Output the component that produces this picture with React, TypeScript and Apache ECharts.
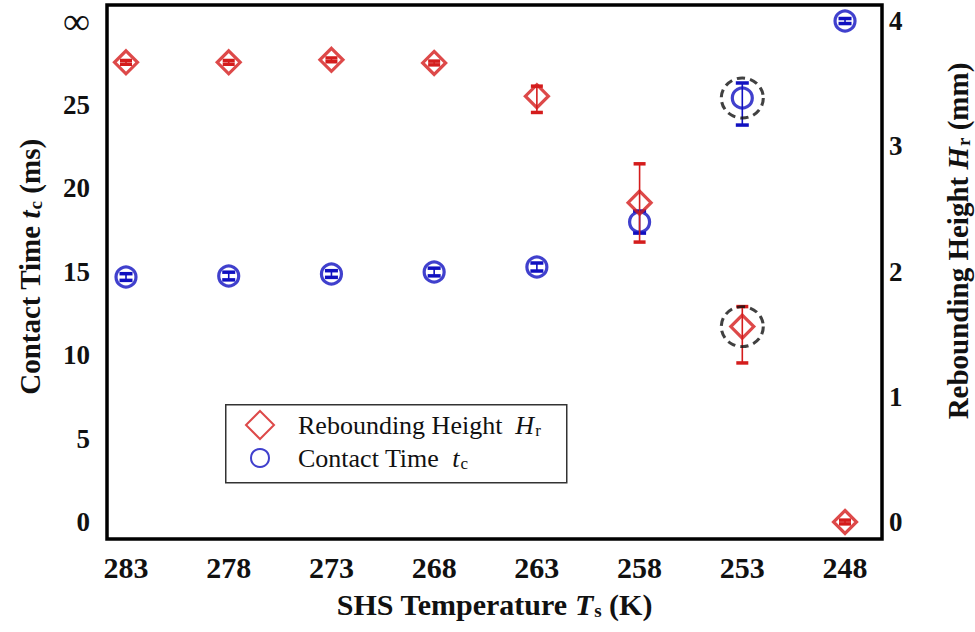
import React, { useEffect, useRef } from "react";
import * as echarts from "echarts";

// SHS temperature categories (K)
const categories = ["283", "278", "273", "268", "263", "258", "253", "248"];
const categoryIndex = [0, 1, 2, 3, 4, 5, 6, 7];

// Rebounding height H_r (mm), right axis
const reboundHeight = [3.67, 3.67, 3.69, 3.665, 3.4, 2.55, 1.56, 0];
const reboundLow = [3.655, 3.655, 3.675, 3.65, 3.27, 2.235, 1.27, -0.015];
const reboundHigh = [3.685, 3.685, 3.705, 3.68, 3.48, 2.86, 1.72, 0.015];

// Contact time t_c (ms), left axis; 30 stands for "∞"
const contactTime = [14.67, 14.73, 14.85, 14.97, 15.27, 17.96, 25.39, 30];
const contactLow = [14.47, 14.5, 14.65, 14.74, 15.03, 17.3, 23.77, 29.85];
const contactHigh = [14.87, 14.96, 15.05, 15.2, 15.51, 18.62, 26.29, 30.15];

// Highlighted (dashed circle) category indices
const highlighted = [6];

// Axis tick values
const leftTicks = [0, 5, 10, 15, 20, 25, 30];
const rightTicks = [0, 1, 2, 3, 4];
const INFINITY_VALUE = 30;

const FONT = '"Liberation Serif", "Times New Roman", serif';
const RED = "#d41c1c";
const BLUE = "#1010c0";

function errorBarSeries(name: string, yAxisIndex: number, low: number[], high: number[], color: string, capW: number) {
  return {
    type: "custom",
    name,
    xAxisIndex: 0,
    yAxisIndex,
    silent: true,
    z: yAxisIndex === 1 ? 6 : 4,
    encode: { x: 0, y: [1, 2] },
    data: categoryIndex.map((i) => [i, low[i], high[i]]),
    renderItem: (_params: any, api: any) => {
      const x = api.value(0);
      const pHi = api.coord([x, api.value(2)]);
      const pLo = api.coord([x, api.value(1)]);
      const ct = 3.5;
      return {
        type: "group",
        children: [
          { type: "line", shape: { x1: pHi[0], y1: pHi[1], x2: pLo[0], y2: pLo[1] }, style: { stroke: color, lineWidth: 1.6 } },
          { type: "rect", shape: { x: pHi[0] - capW / 2, y: pHi[1] - ct / 2, width: capW, height: ct }, style: { fill: color } },
          { type: "rect", shape: { x: pLo[0] - capW / 2, y: pLo[1] - ct / 2, width: capW, height: ct }, style: { fill: color } },
        ],
      };
    },
  };
}

export default function App() {
  const ref = useRef<HTMLDivElement>(null);
  useEffect(() => {
    if (!ref.current) return;
    const chart = echarts.init(ref.current, null, { renderer: "svg" });
    const subRich = (size: number, pad: number, bold: boolean) => ({
      fontSize: size,
      fontFamily: FONT,
      fontWeight: bold ? "bold" : "normal",
      padding: [pad, 0, 0, 1],
    });
    const option: any = {
      animation: false,
      backgroundColor: "#fff",
      grid: {
        left: 107,
        right: 93,
        top: 5,
        bottom: 93,
        show: true,
        borderColor: "#000",
        borderWidth: 3.5,
        backgroundColor: "transparent",
        containLabel: false,
        outerBoundsMode: "none",
      },
      xAxis: {
        type: "value",
        min: -0.185,
        max: 7.36,
        axisLine: { show: false },
        axisTick: { show: false },
        splitLine: { show: false },
        axisLabel: {
          customValues: categoryIndex,
          formatter: (v: number) => categories[Math.round(v)] ?? "",
          fontFamily: FONT,
          fontWeight: "bold",
          fontSize: 30,
          color: "#111",
          margin: 13,
        },
        name: "{b|SHS Temperature }{t|T}{s|s}{b| (K)}",
        nameLocation: "middle",
        nameGap: 50,
        nameTextStyle: {
          fontFamily: FONT,
          fontWeight: "bold",
          fontSize: 30,
          color: "#111",
          rich: {
            b: { fontFamily: FONT, fontWeight: "bold", fontSize: 30, color: "#111" },
            t: { fontFamily: FONT, fontWeight: "bold", fontStyle: "italic", fontSize: 30, color: "#111" },
            s: { ...subRich(19, 12, true), color: "#111" },
          },
        },
      },
      yAxis: [
        {
          type: "value",
          position: "left",
          min: -1.018,
          max: 30.96,
          axisLine: { show: false },
          axisTick: { show: false },
          splitLine: { show: false },
          axisLabel: {
            customValues: leftTicks,
            formatter: (v: number) => (v === INFINITY_VALUE ? "{inf|∞}" : String(v)),
            fontFamily: FONT,
            fontWeight: "bold",
            fontSize: 27,
            color: "#111",
            margin: 17,
            rich: { inf: { fontFamily: FONT, fontSize: 38, lineHeight: 34, fontWeight: "normal", color: "#111" } },
          },
          name: "{b|Contact Time }{t|t}{s|c}{b| (ms)}",
          nameLocation: "middle",
          nameRotate: 90,
          nameGap: 62,
          nameTextStyle: {
            fontFamily: FONT,
            fontWeight: "bold",
            fontSize: 29,
            color: "#111",
            padding: [0, 0, 0, 10],
            rich: {
              b: { fontFamily: FONT, fontWeight: "bold", fontSize: 29, color: "#111" },
              t: { fontFamily: FONT, fontWeight: "bold", fontStyle: "italic", fontSize: 29, color: "#111" },
              s: { ...subRich(19, 12, true), color: "#111" },
            },
          },
        },
        {
          type: "value",
          position: "right",
          min: -0.1357,
          max: 4.128,
          axisLine: { show: false },
          axisTick: { show: false },
          splitLine: { show: false },
          axisLabel: {
            customValues: rightTicks,
            fontFamily: FONT,
            fontWeight: "bold",
            fontSize: 27,
            color: "#111",
            margin: 7,
          },
          name: "{b|Rebounding Height }{t|H}{s|r}{b| (mm)}",
          nameLocation: "middle",
          nameRotate: 90,
          nameGap: 60,
          nameTextStyle: {
            fontFamily: FONT,
            fontWeight: "bold",
            fontSize: 29,
            color: "#111",
            padding: [0, 0, 0, 62],
            rich: {
              b: { fontFamily: FONT, fontWeight: "bold", fontSize: 29, color: "#111" },
              t: { fontFamily: FONT, fontWeight: "bold", fontStyle: "italic", fontSize: 29, color: "#111" },
              s: { ...subRich(19, 12, true), color: "#111" },
            },
          },
        },
      ],
      legend: [
        {
          data: ["Rebounding Height"],
          left: 245,
          top: 410,
          padding: 0,
          itemWidth: 28,
          itemHeight: 28,
          selectedMode: false,
          formatter: () => "{a|Rebounding Height  }{i|H}{s|r}",
          textStyle: {
            fontFamily: FONT,
            fontSize: 26,
            color: "#111",
            padding: [0, 0, 0, 19],
            rich: {
              a: { fontFamily: FONT, fontSize: 26, color: "#111" },
              i: { fontFamily: FONT, fontSize: 26, fontStyle: "italic", color: "#111" },
              s: { ...subRich(17, 11, false), color: "#111" },
            },
          },
        },
        {
          data: ["Contact Time"],
          left: 250,
          top: 445,
          padding: 0,
          itemWidth: 18,
          itemHeight: 18,
          selectedMode: false,
          formatter: () => "{a|Contact Time  }{i|t}{s|c}",
          textStyle: {
            fontFamily: FONT,
            fontSize: 26,
            color: "#111",
            padding: [0, 0, 0, 24],
            rich: {
              a: { fontFamily: FONT, fontSize: 26, color: "#111" },
              i: { fontFamily: FONT, fontSize: 26, fontStyle: "italic", color: "#111" },
              s: { ...subRich(17, 11, false), color: "#111" },
            },
          },
        },
      ],
      graphic: [
        {
          type: "rect",
          left: 225,
          top: 404,
          shape: { width: 341, height: 78 },
          style: { fill: "transparent", stroke: "#333", lineWidth: 1.5 },
          z: 10,
        },
      ],
      series: [
        {
          type: "scatter",
          name: "Contact Time",
          yAxisIndex: 0,
          symbol: "circle",
          symbolSize: 20,
          z: 3,
          itemStyle: { color: "transparent", borderColor: BLUE, borderWidth: 3.2 },
          data: categoryIndex.map((i) => [i, contactTime[i]]),
        },
        errorBarSeries("contactErr", 0, contactLow, contactHigh, BLUE, 13),
        {
          type: "scatter",
          name: "Rebounding Height",
          yAxisIndex: 1,
          symbol: "diamond",
          symbolSize: 23,
          z: 5,
          itemStyle: { color: "transparent", borderColor: RED, borderWidth: 3.2 },
          data: categoryIndex.map((i) => [i, reboundHeight[i]]),
        },
        errorBarSeries("reboundErr", 1, reboundLow, reboundHigh, RED, 12),
        {
          type: "scatter",
          name: "highlightContact",
          yAxisIndex: 0,
          symbol: "circle",
          symbolSize: [42, 40],
          z: 7,
          silent: true,
          itemStyle: { color: "transparent", borderColor: "#111", borderWidth: 3, borderType: [8, 5] },
          data: highlighted.map((i) => [i, contactTime[i]]),
        },
        {
          type: "scatter",
          name: "highlightRebound",
          yAxisIndex: 1,
          symbol: "circle",
          symbolSize: [42, 40],
          z: 7,
          silent: true,
          itemStyle: { color: "transparent", borderColor: "#111", borderWidth: 3, borderType: [8, 5] },
          data: highlighted.map((i) => [i, reboundHeight[i]]),
        },
      ],
    };
    chart.setOption(option);
    return () => chart.dispose();
  }, []);
  return <div ref={ref} style={{ width: 975, height: 632, position: "absolute", left: 0, top: 0 }} />;
}
